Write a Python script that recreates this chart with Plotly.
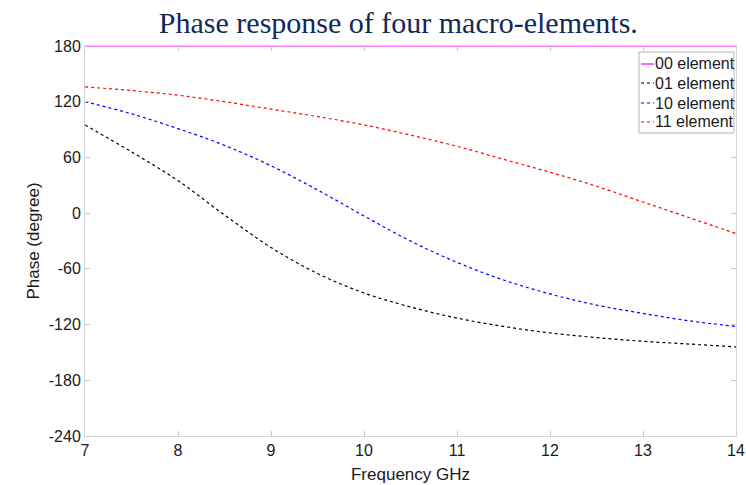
import plotly.graph_objects as go

freq = [7, 7.5, 8, 8.5, 9, 9.5, 10, 10.5, 11, 11.5, 12, 12.5, 13, 13.5, 14]
phase_00 = [180] * len(freq)
phase_01 = [95, 66, 35, -2, -37, -65, -86, -101, -113, -122, -129, -134, -138, -141, -144]
phase_10 = [120, 107, 91, 73, 51, 25, -3, -30, -53, -72, -87, -99, -108, -116, -122]
phase_11 = [136, 132, 127, 120, 112, 104, 95, 84, 72, 58, 44, 29, 12, -5, -22]

names = ["00 element", "01 element", "10 element", "11 element"]
colors = ["#ff00ff", "#000000", "#0000ff", "#ff0000"]
dashes = ["solid", "3px,3px", "3px,3px", "3px,3px"]
series = [phase_00, phase_01, phase_10, phase_11]

yticks = [-240, -180, -120, -60, 0, 60, 120, 180]
ytick_text = ["-240", "-180", "-120", "-60", "0", "60", "120", "180"]
xticks = [7, 8, 9, 10, 11, 12, 13, 14]

W, H = 746, 485
ML, MR, MT, MB = 85, 10, 46, 49
PW, PH = W - ML - MR, H - MT - MB

def px(x):  # pixel -> paper x
    return (x - ML) / PW

def py(y):  # pixel -> paper y
    return (H - MB - y) / PH

fig = go.Figure()
for n, c, d, s in zip(names, colors, dashes, series):
    fig.add_trace(go.Scatter(x=freq, y=s, mode="lines", name=n, showlegend=False,
                             line=dict(color=c, dash=d, width=1.2, shape="spline", smoothing=1.0)))

axis_common = dict(showgrid=False, zeroline=False, showline=True, linecolor="#d4d4d4",
                   linewidth=1, mirror="ticks", ticks="inside", ticklen=5, tickcolor="#c8c8c8",
                   automargin=False,
                   tickfont=dict(family="Liberation Sans, Arial", size=16, color="#1a1a1a"))

# custom legend (box, short line samples, labels)
shapes = [dict(type="rect", xref="paper", yref="paper", x0=px(639), x1=px(734), y0=py(133), y1=py(52),
               line=dict(color="#b4b4b4", width=1), fillcolor="white", layer="above")]
annotations = []
row_y = [64, 83, 103, 122]
for n, c, d, ry in zip(names, colors, dashes, row_y):
    shapes.append(dict(type="line", xref="paper", yref="paper", x0=px(641), x1=px(654), y0=py(ry), y1=py(ry),
                       line=dict(color=c, width=1.2, dash=d), layer="above"))
    annotations.append(dict(text=n, xref="paper", yref="paper", x=px(653), y=py(ry), xanchor="left",
                            yanchor="middle", showarrow=False,
                            font=dict(family="Liberation Sans, Arial", size=16, color="#1a1a1a")))

fig.update_layout(
    width=W, height=H,
    paper_bgcolor="white", plot_bgcolor="white",
    margin=dict(l=ML, r=MR, t=MT, b=MB, autoexpand=False),
    title=dict(text="Phase response of four macro-elements.", x=0.534, xanchor="center",
               y=1 - 22 / H, yanchor="middle",
               font=dict(family="Liberation Serif, Times New Roman", size=30, color="#14285a")),
    xaxis=dict(range=[7, 14], tickvals=xticks,
               title=dict(text="Frequency GHz", standoff=9,
                          font=dict(family="Liberation Sans, Arial", size=17, color="#1a1a1a")),
               **axis_common),
    yaxis=dict(range=[-240, 180], tickvals=yticks, ticktext=ytick_text,
               title=dict(text="Phase (degree)", standoff=4,
                          font=dict(family="Liberation Sans, Arial", size=17, color="#1a1a1a")),
               **axis_common),
    shapes=shapes,
    annotations=annotations,
    showlegend=False,
)

fig.write_html("out.html")
